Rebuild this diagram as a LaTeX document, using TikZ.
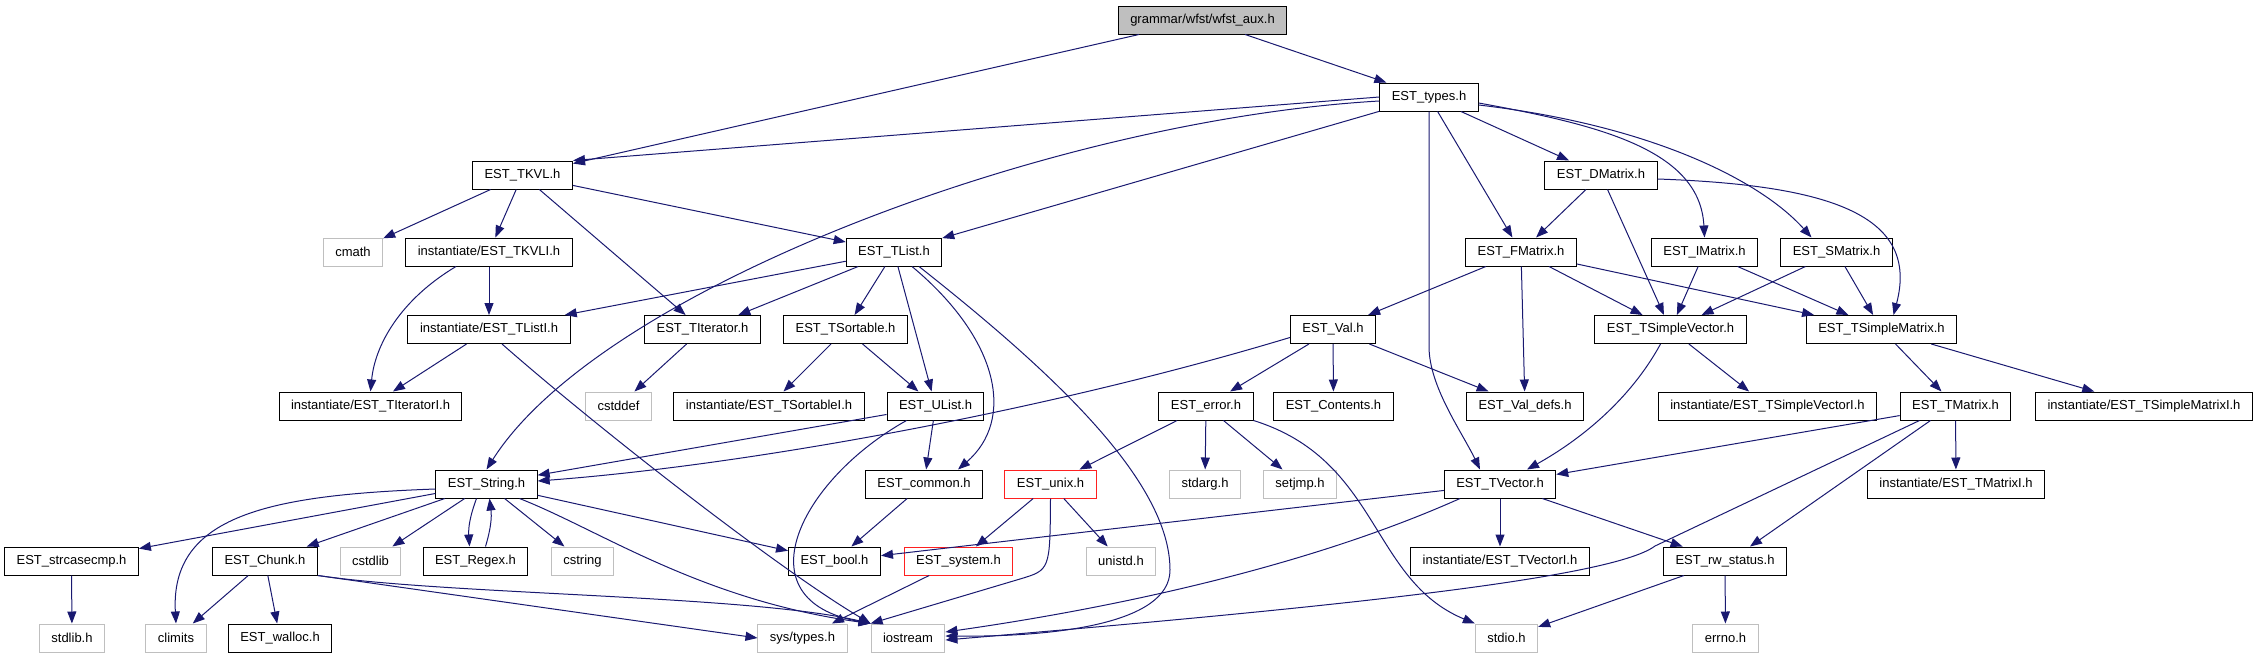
\documentclass[tikz,border=0pt]{standalone}
\usepackage{fontspec}
\setmainfont{Liberation Sans}
\usepackage{xcolor}
\usepackage{tikz}
\usetikzlibrary{arrows.meta}
\definecolor{edgeblue}{HTML}{191970}
\definecolor{sysgray}{HTML}{BFBFBF}
\definecolor{cutred}{HTML}{FF2020}

\begin{document}
\begin{tikzpicture}[x=1pt, y=-1pt]
    \tikzset{hdr/.style={rectangle, draw=black, fill=white, line width=1pt,
                         minimum height=28pt, inner xsep=12pt, inner ysep=0pt,
                         font=\fontsize{13}{15}\selectfont},
             sysh/.style={hdr, draw=sysgray},
             cut/.style={hdr, draw=cutred},
             rootbox/.style={hdr, fill=sysgray},
             inc/.style={draw=edgeblue, line width=1pt, -{Triangle[length=12pt, width=9pt]}}}
    \useasboundingbox (0,0) rectangle (2259,659);
    % nodes, one row after the other
    \node[rootbox] (wfst) at (1202.5,20) {grammar/wfst/wfst\_aux.h};
    \node[hdr] (types) at (1429,97) {EST\_types.h};
    \node[hdr] (tkvl) at (522.5,175) {EST\_TKVL.h}; \node[hdr] (dmatrix) at (1601,175) {EST\_DMatrix.h};
    \node[sysh] (cmath) at (353,252) {cmath}; \node[hdr] (tkvli) at (489,252) {instantiate/EST\_TKVLI.h};
    \node[hdr] (tlist) at (894,252) {EST\_TList.h}; \node[hdr] (fmatrix) at (1521,252) {EST\_FMatrix.h};
    \node[hdr] (imatrix) at (1704.5,252) {EST\_IMatrix.h}; \node[hdr] (smatrix) at (1836.5,252) {EST\_SMatrix.h};
    \node[hdr] (tlisti) at (489,329.5) {instantiate/EST\_TListI.h}; \node[hdr] (titer) at (702.5,329.5) {EST\_TIterator.h};
    \node[hdr] (tsort) at (845.5,329.5) {EST\_TSortable.h}; \node[hdr] (val) at (1333,329.5) {EST\_Val.h};
    \node[hdr] (tsvec) at (1670.5,329.5) {EST\_TSimpleVector.h}; \node[hdr] (tsmat) at (1881.5,329.5) {EST\_TSimpleMatrix.h};
    \node[hdr] (titeri) at (370.5,406) {instantiate/EST\_TIteratorI.h}; \node[sysh] (cstddef) at (618.5,406) {cstddef};
    \node[hdr] (tsorti) at (769,406) {instantiate/EST\_TSortableI.h}; \node[hdr] (ulist) at (935.5,406) {EST\_UList.h};
    \node[hdr] (error) at (1206,406) {EST\_error.h}; \node[hdr] (contents) at (1333.5,406) {EST\_Contents.h};
    \node[hdr] (valdefs) at (1525,406) {EST\_Val\_defs.h}; \node[hdr] (tsveci) at (1767.5,406) {instantiate/EST\_TSimpleVectorI.h};
    \node[hdr] (tmatrix) at (1955.5,406) {EST\_TMatrix.h}; \node[hdr] (tsmati) at (2144,406) {instantiate/EST\_TSimpleMatrixI.h};
    \node[hdr] (string) at (486.5,484) {EST\_String.h}; \node[hdr] (common) at (924,484) {EST\_common.h};
    \node[cut] (unix) at (1050.5,484) {EST\_unix.h}; \node[sysh] (stdarg) at (1205,484) {stdarg.h};
    \node[sysh] (setjmp) at (1300,484) {setjmp.h}; \node[hdr] (tvector) at (1500,484) {EST\_TVector.h};
    \node[hdr] (tmatrixi) at (1956,484) {instantiate/EST\_TMatrixI.h};
    \node[hdr] (strcasecmp) at (71.5,561) {EST\_strcasecmp.h}; \node[hdr] (chunk) at (265,561) {EST\_Chunk.h};
    \node[sysh] (cstdlib) at (370.5,561) {cstdlib}; \node[hdr] (regex) at (475.5,561) {EST\_Regex.h};
    \node[sysh] (cstring) at (582.5,561) {cstring}; \node[hdr] (bool) at (834.5,561) {EST\_bool.h};
    \node[cut] (system) at (958.5,561) {EST\_system.h}; \node[sysh] (unistd) at (1121,561) {unistd.h};
    \node[hdr] (tvectori) at (1500,561) {instantiate/EST\_TVectorI.h}; \node[hdr] (rwstatus) at (1725,561) {EST\_rw\_status.h};
    \node[sysh] (stdlib) at (72,638) {stdlib.h}; \node[sysh] (climits) at (176,638) {climits};
    \node[hdr] (walloc) at (280,638) {EST\_walloc.h}; \node[sysh] (systypes) at (802.5,638) {sys/types.h};
    \node[sysh] (iostream) at (908,638) {iostream}; \node[sysh] (stdio) at (1506.5,638) {stdio.h};
    \node[sysh] (errno) at (1725.5,638) {errno.h};
    % includes
    \draw[inc] (wfst) -- (tkvl);
    \draw[inc] (wfst) -- (types);
    \draw[inc] (types.west) -- (tkvl.north east);
    \draw[inc] ([yshift=-4pt]types.west) .. controls (1050,120) and (600,290) .. (string.north);
    \draw[inc] (types) -- (tlist);
    \draw[inc] (types) -- (dmatrix);
    \draw[inc] (types) -- (fmatrix);
    \draw[inc] (types.south) -- ++(0,235) .. controls +(0,40) and (1462,432) .. ([xshift=-20pt]tvector.north);
    \draw[inc] ([yshift=-6pt]types.east) .. controls (1600,125) and (1700,150) .. (imatrix.north);
    \draw[inc] ([yshift=-8pt]types.east) .. controls (1650,125) and (1760,180) .. ([xshift=-25pt]smatrix.north);
    \draw[inc] (tkvl) -- (cmath);
    \draw[inc] (tkvl) -- (tkvli);
    \draw[inc] (tkvl) -- (titer);
    \draw[inc] (tkvl) -- (tlist);
    \draw[inc] (tkvli) -- (tlisti);
    \draw[inc] ([xshift=-33pt]tkvli.south) .. controls (400,300) and (375,345) .. (titeri.north);
    \draw[inc] (tlist) -- (tlisti);
    \draw[inc] (tlist) -- (titer);
    \draw[inc] (tlist) -- (tsort);
    \draw[inc] (tlist) -- (ulist);
    \draw[inc] ([xshift=18pt]tlist.south) .. controls (1000,340) and (1015,420) .. ([xshift=34pt]common.north);
    \draw[inc] ([xshift=25pt]tlist.south) .. controls (1050,370) and (1170,480) .. (1170,570)
               .. controls (1170,625) and (1050,637) .. ([yshift=2pt]iostream.east);
    \draw[inc] (tlisti) -- (titeri);
    \draw[inc] ([xshift=13pt]tlisti.south) .. controls (600,430) and (780,570) .. (iostream.north west);
    \draw[inc] (titer) -- (cstddef);
    \draw[inc] (tsort) -- (tsorti);
    \draw[inc] (tsort) -- (ulist);
    \draw[inc] (ulist) -- (string);
    \draw[inc] (ulist) -- (common);
    \draw[inc] ([xshift=-29pt]ulist.south) .. controls (800,480) and (740,600) .. (iostream.north west);
    \draw[inc] ([yshift=-8pt]val.west) .. controls (1050,410) and (750,465) .. ([yshift=3pt]string.east);
    \draw[inc] (val) -- (error);
    \draw[inc] (val) -- (contents);
    \draw[inc] (val) -- (valdefs);
    \draw[inc] (error) -- (unix);
    \draw[inc] (error) -- (stdarg);
    \draw[inc] (error) -- (setjmp);
    \draw[inc] (error.south east) .. controls (1380,460) and (1370,580) .. (stdio.north west);
    \draw[inc] (common) -- (bool);
    \draw[inc] (unix) -- (system);
    \draw[inc] (unix) -- (unistd);
    \draw[inc] (unix.south) .. controls (1050,570) .. (1020,579) -- (iostream.north west);
    \draw[inc] (system) -- (systypes);
    \draw[inc] (string) -- (strcasecmp);
    \draw[inc] ([yshift=-5pt]string.west) .. controls (270,495) and (170,515) .. (climits.north);
    \draw[inc] (string) -- (chunk);
    \draw[inc] (string) -- (cstdlib);
    \draw[inc] ([xshift=-10pt]string.south) to[bend right=12] ([xshift=-6pt]regex.north);
    \draw[inc] ([xshift=10pt]regex.north) to[bend right=12] ([xshift=3pt]string.south);
    \draw[inc] (string) -- (cstring);
    \draw[inc] (string) -- (bool);
    \draw[inc] ([xshift=33pt]string.south) .. controls (600,530) and (700,600) .. (iostream.north west);
    \draw[inc] (strcasecmp) -- (stdlib);
    \draw[inc] (chunk) -- (climits);
    \draw[inc] (chunk) -- (walloc);
    \draw[inc] (chunk.south east) -- (systypes.west);
    \draw[inc] (chunk.south east) .. controls (450,595) and (750,595) .. (iostream.north west);
    \draw[inc] (fmatrix) -- (val);
    \draw[inc] (fmatrix) -- (valdefs);
    \draw[inc] (fmatrix) -- (tsvec);
    \draw[inc] (fmatrix) -- (tsmat);
    \draw[inc] (dmatrix) -- (fmatrix);
    \draw[inc] (dmatrix) -- (tsvec);
    \draw[inc] ([yshift=-4pt]dmatrix.east) .. controls (1830,185) and (1920,215) .. ([xshift=12pt]tsmat.north);
    \draw[inc] (imatrix) -- (tsvec);
    \draw[inc] (imatrix) -- (tsmat);
    \draw[inc] (smatrix) -- (tsvec);
    \draw[inc] (smatrix) -- (tsmat);
    \draw[inc] ([xshift=-10pt]tsvec.south) .. controls (1630,400) and (1580,440) .. ([xshift=27pt]tvector.north);
    \draw[inc] (tsvec) -- (tsveci);
    \draw[inc] (tsmat) -- (tmatrix);
    \draw[inc] (tsmat) -- (tsmati);
    \draw[inc] (tmatrix) -- (tvector);
    \draw[inc] ([xshift=-36pt]tmatrix.south) -- (1655,546) .. controls (1610,580) and (1300,610) .. ([yshift=-2pt]iostream.east);
    \draw[inc] ([xshift=-25pt]tmatrix.south) -- ([xshift=25pt]rwstatus.north);
    \draw[inc] (tmatrix) -- (tmatrixi);
    \draw[inc] (tvector) -- (bool);
    \draw[inc] ([xshift=-40pt]tvector.south) .. controls (1300,570) and (1100,610) .. ([yshift=6pt]iostream.east);
    \draw[inc] (tvector) -- (tvectori);
    \draw[inc] (tvector) -- (rwstatus);
    \draw[inc] (rwstatus) -- (stdio);
    \draw[inc] (rwstatus) -- (errno);
\end{tikzpicture}
\end{document}
